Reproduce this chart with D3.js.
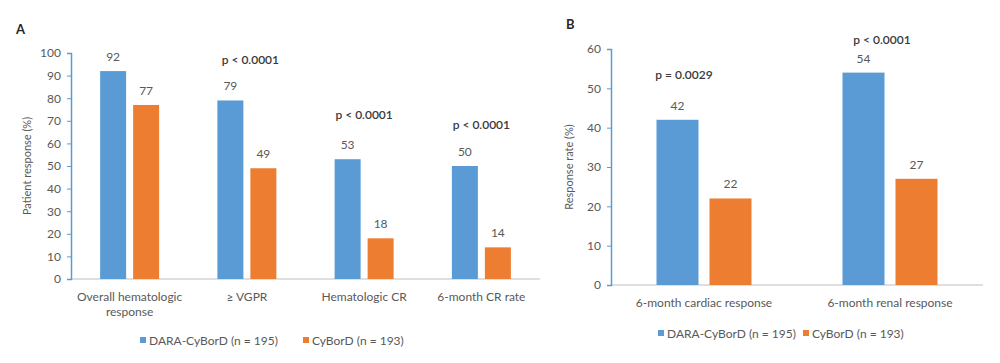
<!DOCTYPE html>
<html><head><meta charset="utf-8">
<script src="https://cdn.jsdelivr.net/npm/d3@7"></script>
<style>body{margin:0;background:#fff}svg{display:block}text{font-family:Lato,"Open Sans",sans-serif}</style>
</head><body><svg id="c" width="1000" height="363"></svg>
<script>
const catsA = ["Overall hematologic|response", "≥ VGPR", "Hematologic CR", "6-month CR rate"];
const daraA = [92, 79, 53, 50];
const cybA = [77, 49, 18, 14];
const pA = ["", "p < 0.0001", "p < 0.0001", "p < 0.0001"];
const ticksA = [0,10,20,30,40,50,60,70,80,90,100];
const catsB = ["6-month cardiac response", "6-month renal response"];
const daraB = [42, 54];
const cybB = [22, 27];
const pB = ["p = 0.0029", "p < 0.0001"];
const ticksB = [0,10,20,30,40,50,60];
const seriesNames = ["DARA-CyBorD (n = 195)", "CyBorD (n = 193)"];
const colors = ["#5b9bd5", "#ed7d31"];

const svg = d3.select("#c");
const txt = "#595959";

function panel(o){
  const g = svg.append("g");
  const x = d3.scaleBand().domain(o.cats).range([o.x0, o.x1]);
  const y = d3.scaleLinear().domain([0, o.ymax]).range([o.y0, o.y1]);
  g.append("line").attr("x1", o.x0).attr("x2", o.x1).attr("y1", y(0)).attr("y2", y(0))
    .attr("stroke", "#bfbfbf").attr("stroke-width", 1);
  const ya = d3.axisLeft(y).tickValues(o.ticks).tickSize(4).tickPadding(6);
  const yg = g.append("g").attr("transform", `translate(${o.x0},0)`).call(ya);
  yg.select(".domain").attr("stroke", "#5b9bd5").attr("stroke-width", 1.5);
  yg.selectAll(".tick line").attr("stroke", "#5b9bd5");
  yg.selectAll(".tick text").attr("fill", txt).style("font-size", "12px");
  const bw = o.bw, gap = o.gap;
  const vals = [o.dara, o.cyb];
  vals.forEach((vs, s) => {
    o.cats.forEach((c, i) => {
      const cx = x(c) + x.bandwidth()/2;
      const bx = s === 0 ? cx - gap/2 - bw : cx + gap/2;
      g.append("rect").attr("x", bx).attr("width", bw)
        .attr("y", y(vs[i])).attr("height", y(0) - y(vs[i])).attr("fill", colors[s]);
      g.append("text").attr("x", bx + bw/2).attr("y", y(vs[i]) - 10)
        .attr("text-anchor", "middle").attr("fill", txt).style("font-size", "12px").text(vs[i]);
    });
  });
  o.cats.forEach((c, i) => {
    const cx = x(c) + x.bandwidth()/2;
    const lines = c.split("|");
    lines.forEach((l, k) => {
      g.append("text").attr("x", cx).attr("y", y(0) + 22 + k*15).attr("text-anchor", "middle")
        .attr("fill", txt).style("font-size", "12px").text(l);
    });
    if (o.p[i]) {
      const top = Math.max(o.dara[i], o.cyb[i]);
      g.append("text").attr("x", cx + o.pdx[i]).attr("y", y(top) + o.pdy[i])
        .attr("text-anchor", "middle").attr("fill", "#3a3a3a").style("font-size", "12px")
        .style("font-weight", "600").text(o.p[i]);
    }
  });
  g.append("text").attr("transform", `translate(${o.tx},${(o.y0+o.y1)/2}) rotate(-90)`)
    .attr("text-anchor", "middle").attr("fill", txt).style("font-size", "11px").text(o.title);
  g.append("text").attr("x", o.lx).attr("y", o.ly).attr("fill", "#262626")
    .style("font-size", "13px").style("font-weight", "bold").text(o.letter);
  o.leg.forEach((lx, s) => {
    g.append("rect").attr("x", lx).attr("y", o.legy - 4).attr("width", 6).attr("height", 6).attr("fill", colors[s]);
    g.append("text").attr("x", lx + 9).attr("y", o.legy + 3.5).attr("fill", txt)
      .style("font-size", "12px").text(seriesNames[s]);
  });
}

panel({cats: catsA, dara: daraA, cyb: cybA, p: pA, ticks: ticksA, ymax: 100,
  x0: 71, x1: 540, y0: 279, y1: 53, bw: 26, gap: 7,
  pdx: [0, 3.5, 0, 0], pdy: [0, -36.5, -40, -37],
  title: "Patient response (%)", tx: 31, letter: "A", lx: 16, ly: 34,
  leg: [140, 303], legy: 341});

panel({cats: catsB, dara: daraB, cyb: cybB, p: pB, ticks: ticksB, ymax: 60,
  x0: 611, x1: 983, y0: 285, y1: 49, bw: 42, gap: 11,
  pdx: [-20, -8], pdy: [-41, -29],
  title: "Response rate (%)", tx: 573, letter: "B", lx: 566, ly: 29,
  leg: [658, 803], legy: 334});
</script></body></html>
